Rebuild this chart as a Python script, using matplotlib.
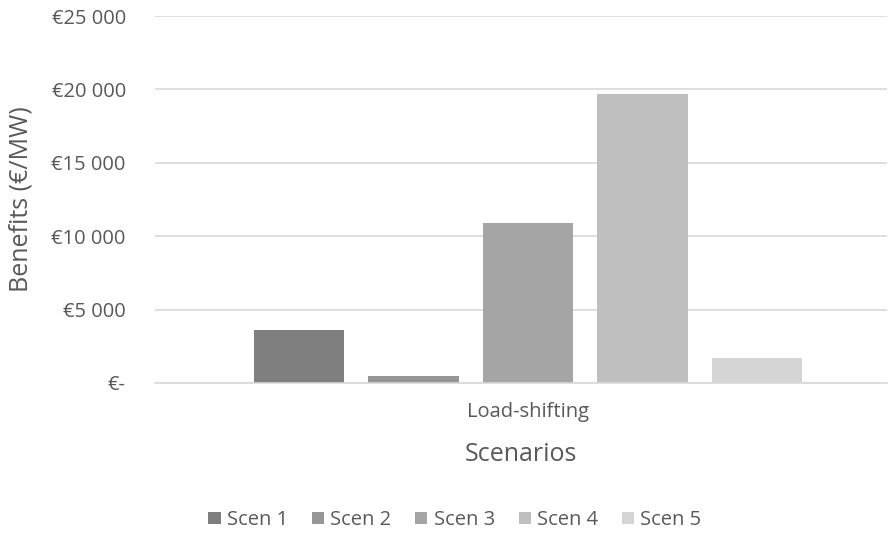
import matplotlib.pyplot as plt
from matplotlib.ticker import FuncFormatter

plt.rcParams['font.family'] = ['Open Sans', 'DejaVu Sans']

category = "Load-shifting"
scenarios = ["Scen 1", "Scen 2", "Scen 3", "Scen 4", "Scen 5"]
benefits = [3600, 500, 10900, 19700, 1700]
colors = ["#7f7f7f", "#969696", "#a5a5a5", "#bfbfbf", "#d5d5d5"]
y_ticks = [0, 5000, 10000, 15000, 20000, 25000]

text_col = "#595959"

fig = plt.figure(figsize=(8.88, 5.37), dpi=100)
ax = fig.add_axes([155/888, 1 - 383/537, 732/888, 367/537])

width = 0.79
for i, (name, val, c) in enumerate(zip(scenarios, benefits, colors)):
    ax.bar(i - 2, val, width=width, color=c, label=name, zorder=2)

ax.set_xlim(-3.258, 3.135)
ax.set_ylim(0, 25000)
ax.set_yticks(y_ticks)

def euro(v, pos):
    if v == 0:
        return "€-"
    return "€" + f"{int(v):,}".replace(",", " ")

ax.yaxis.set_major_formatter(FuncFormatter(euro))
ax.yaxis.grid(True, color="#d9d9d9", linewidth=1.2, zorder=0)
ax.set_xticks([0])
ax.set_xticklabels([category])
ax.tick_params(axis='both', length=0, colors=text_col, labelsize=14.5)
ax.tick_params(axis='y', pad=21)
ax.tick_params(axis='x', pad=14)
for s in ["top", "right", "left"]:
    ax.spines[s].set_visible(False)
ax.spines["bottom"].set_color("#d9d9d9")
ax.spines["bottom"].set_linewidth(1.2)

ax.set_xlabel("Scenarios", fontsize=18, color=text_col, labelpad=14)
ax.set_ylabel("Benefits (€/MW)", fontsize=18, color=text_col, labelpad=13)

fig.legend(loc="center", bbox_to_anchor=(455/888, 1 - 520/537), ncol=5, frameon=False,
           fontsize=14.5, labelcolor=text_col, handlelength=0.6, handleheight=0.6,
           handletextpad=0.3, columnspacing=1.2)

fig.savefig("out.png", dpi=100)
